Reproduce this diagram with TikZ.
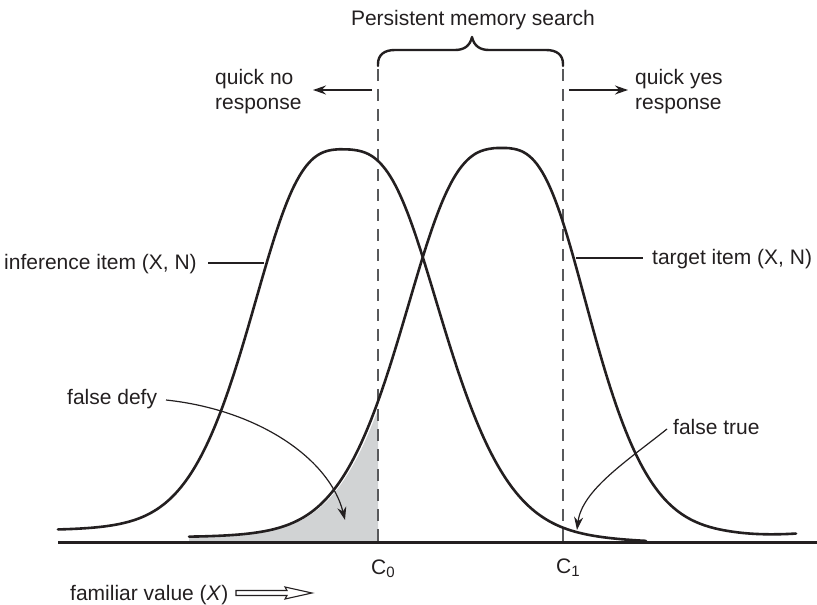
\documentclass[tikz,border=0pt]{standalone}
\usepackage{fontspec}
\setmainfont{Liberation Sans}
\usetikzlibrary{arrows.meta}
\definecolor{ink}{HTML}{231F20}
\definecolor{dashgray}{HTML}{58595B}
\definecolor{shadegray}{HTML}{D1D3D4}
\begin{document}
\begin{tikzpicture}[x=1pt,y=-1pt,
  font=\fontsize{21}{25}\selectfont,
  declare function={
    prof(\pd,\pa,\pb,\pl)=0.5*exp(-pow(abs(\pd)/\pa+0.0001,2.5))+0.5*exp(-pow(\pd/\pl,4))/(1+pow(abs(\pd)/\pb+0.0001,3.5));
    infc(\t)=531+11*(\t-58)/588-387*prof(\t-344,(\t<344?118:128),(\t<344?99:102),280);
    targ(\t)=537-389*prof(\t-502,(\t<502?122:114),(\t<502?106:92),(\t<502?250:280))-(\t>740?0.0008*(\t-740)*(\t-740):0);
  },
  bell/.style={line width=2.6pt, draw=ink, line join=round, line cap=round},
  cutline/.style={line width=1.8pt, draw=dashgray, dash pattern=on 12pt off 8pt},
  leader/.style={line width=1.2pt, draw=ink},
  pointer/.style={line width=1.2pt, draw=ink, -{Stealth[length=13pt,width=9pt]}},
  sidearrow/.style={line width=1.4pt, draw=ink, -{Stealth[length=13pt,width=9pt]}},
  lbl/.style={inner sep=0pt, text=ink, anchor=base west}]

\useasboundingbox (0,0) rectangle (817,605);

% shaded tail of the target distribution left of C0
\fill[shadegray] (189,542) -- plot[domain=189:378, samples=80] (\x,{targ(\x-3)}) -- (378,542) -- cycle;

% criterion lines
\coordinate (c0top) at (378,69);
\coordinate (c0bot) at (378,542);
\coordinate (c1top) at (563,69);
\coordinate (c1bot) at (563,542);
\draw[cutline] (c0top) -- (c0bot);
\draw[cutline] (c1top) -- (c1bot);

% the two distributions
\draw[bell] plot[domain=58:646, samples=240] (\x,{infc(\x)});
\draw[bell] plot[domain=189:796, samples=240] (\x,{targ(\x)});

% axis
\coordinate (axL) at (58,542);
\coordinate (axR) at (817,542);
\draw[line width=3pt, draw=ink] (axL) -- (axR);

% brace over the search region
\draw[line width=2.4pt, draw=ink, line cap=round, line join=round]
  (378,66) -- (378,64) .. controls (378,55) and (384,50) .. (395,50) -- (455,50)
  .. controls (464,50) and (470,46) .. (472,37)
  .. controls (474,46) and (480,50) .. (489,50) -- (546,50)
  .. controls (557,50) and (563,55) .. (563,64) -- (563,66);

% titles and response labels
\node[lbl, anchor=base] (title) at (473,25) {Persistent memory search};
\node[lbl] (qno1) at (215,84) {quick no};
\node[lbl] (qno2) at (215,109) {response};
\node[lbl] (qyes1) at (635,84) {quick yes};
\node[lbl] (qyes2) at (635,109) {response};
\coordinate (noTail) at (372,90);
\coordinate (noTip) at (313,90);
\coordinate (yesTail) at (569,90);
\coordinate (yesTip) at (628,90);
\draw[sidearrow] (noTail) -- (noTip);
\draw[sidearrow] (yesTail) -- (yesTip);

% curve labels
\node[lbl] (infLbl) at (4,269) {inference item (X, N)};
\node[lbl] (tgtLbl) at (652,264) {target item (X, N)};
\coordinate (infA) at (208,263);
\coordinate (infB) at (264,263);
\coordinate (tgtA) at (576,258);
\coordinate (tgtB) at (643,258);
\draw[leader] (infA) -- (infB);
\draw[leader] (tgtA) -- (tgtB);

% error regions
\node[lbl] (fdefy) at (67,404) {false defy};
\node[lbl] (ftrue) at (673,434) {false true};
\coordinate (defyTail) at (166,400);
\coordinate (defyTip) at (345,520);
\coordinate (trueTail) at (667,429);
\coordinate (trueTip) at (577,530);
\draw[pointer] (defyTail) .. controls (260,410) and (330,460) .. (defyTip);
\draw[pointer] (trueTail) .. controls (627,461) and (582,490) .. (trueTip);

% criterion names
\node[lbl] (c0lbl) at (371,574) {C\raisebox{-3.5pt}{\fontsize{15}{15}\selectfont 0}};
\node[lbl] (c1lbl) at (556,573) {C\raisebox{-3.5pt}{\fontsize{15}{15}\selectfont 1}};

% axis caption with hollow arrow
\node[lbl] (fam) at (70,600) {familiar value (\textit{X})};
\draw[line width=1.1pt, draw=ink, fill=white, line join=miter]
  (236,590.5) -- (287,590.5) -- (285,587) -- (312,593) -- (285,599) -- (287,595.5) -- (236,595.5) -- cycle;
\end{tikzpicture}
\end{document}
